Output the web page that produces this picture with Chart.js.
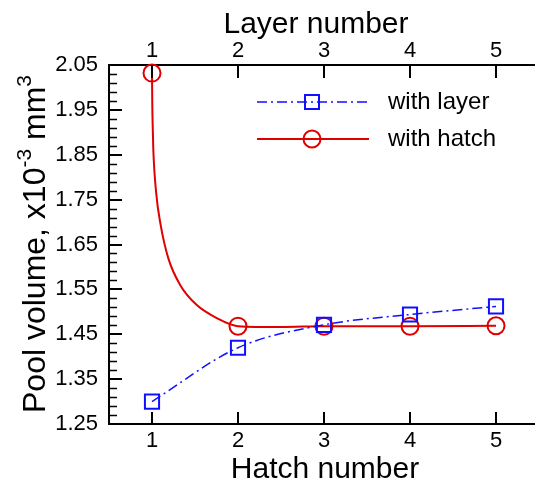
<!DOCTYPE html>
<html><head><meta charset="utf-8">
<script src="https://cdn.jsdelivr.net/npm/chart.js@4"></script>
<style>
html,body{margin:0;padding:0;background:#fff;overflow:hidden;width:535px;height:483px}
#wrap{width:551px;height:483px}
</style></head>
<body><div id="wrap"><canvas id="c" width="551" height="483"></canvas></div>
<script>
// ---- data ----
const categories = [1, 2, 3, 4, 5];
const layerVolume = [1.300, 1.420, 1.471, 1.494, 1.512];
const hatchVolume = [2.032, 1.468, 1.468, 1.468, 1.469];
// traced points of the drawn red spline
const hatchCurveX = [1.0, 1.003, 1.008, 1.015, 1.047, 1.101, 1.19, 1.327, 1.521, 1.754, 2.0, 2.5, 3.0, 4.0, 5.0];
const hatchCurveY = [2.032, 1.967, 1.915, 1.863, 1.768, 1.693, 1.619, 1.560, 1.515, 1.486, 1.468, 1.466, 1.468, 1.468, 1.469];
const yTicks = [1.25, 1.35, 1.45, 1.55, 1.65, 1.75, 1.85, 1.95, 2.05];
const xTickLabels = ['1', '2', '3', '4', '5'];
const seriesNames = ['with layer', 'with hatch'];

const FONT = '"Liberation Sans", Arial, sans-serif';
const BLUE = '#1010ff', RED = '#e00000';
const DASHDOT = [10, 4, 2, 4];

function drawTexts(chart) {
  const ctx = chart.ctx;
  ctx.save();
  ctx.fillStyle = '#000';
  ctx.font = '30px ' + FONT;
  ctx.textAlign = 'center';
  ctx.textBaseline = 'alphabetic';
  ctx.fillText('Layer number', 316, 33);
  ctx.fillText('Hatch number', 325, 478);
  ctx.restore();
  ctx.save();
  ctx.fillStyle = '#000';
  const big = '32px ' + FONT, small = '21px ' + FONT;
  const parts = [
    {t: 'Pool volume, x10', f: big, r: 0},
    {t: '-3', f: small, r: 14},
    {t: ' mm', f: big, r: 0},
    {t: '3', f: small, r: 14}
  ];
  let total = 0;
  parts.forEach(p => { ctx.font = p.f; p.w = ctx.measureText(p.t).width; total += p.w; });
  ctx.translate(45, 244);
  ctx.rotate(-Math.PI / 2);
  ctx.textAlign = 'left';
  ctx.textBaseline = 'alphabetic';
  let cx = -total / 2;
  parts.forEach(p => { ctx.font = p.f; ctx.fillText(p.t, cx, -p.r); cx += p.w; });
  ctx.restore();
}

function drawLegend(chart) {
  const ctx = chart.ctx;
  ctx.save();
  const rows = [102, 139];
  const lx0 = 257, lx1 = 369, mx = 312, tx = 388;
  ctx.lineWidth = 1.5;
  ctx.strokeStyle = BLUE;
  ctx.setLineDash(DASHDOT);
  ctx.beginPath(); ctx.moveTo(lx0, rows[0]); ctx.lineTo(lx1, rows[0]); ctx.stroke();
  ctx.setLineDash([]);
  ctx.lineWidth = 2;
  ctx.beginPath(); ctx.rect(mx - 7, rows[0] - 7, 14, 14); ctx.stroke();
  ctx.strokeStyle = RED;
  ctx.beginPath(); ctx.moveTo(lx0, rows[1]); ctx.lineTo(lx1, rows[1]); ctx.stroke();
  ctx.beginPath(); ctx.arc(mx, rows[1], 8.5, 0, Math.PI * 2); ctx.stroke();
  ctx.fillStyle = '#000';
  ctx.font = '24px ' + FONT;
  ctx.textAlign = 'left';
  ctx.textBaseline = 'middle';
  ctx.fillText(seriesNames[0], tx, rows[0]);
  ctx.fillText(seriesNames[1], tx, rows[1]);
  ctx.restore();
}

function drawInwardTicks(chart) {
  const ctx = chart.ctx, ca = chart.chartArea;
  const x = chart.scales.x, x2 = chart.scales.x2, y = chart.scales.y;
  ctx.save();
  ctx.setLineDash([]);
  ctx.globalAlpha = 1;
  ctx.globalCompositeOperation = 'source-over';
  ctx.strokeStyle = '#000000';
  ctx.lineWidth = 2;
  for (const v of categories) {
    const p = Math.round(x.getPixelForValue(v));
    ctx.beginPath(); ctx.moveTo(p, ca.bottom); ctx.lineTo(p, ca.bottom - 12); ctx.stroke();
    const p2 = Math.round(x2.getPixelForValue(v));
    ctx.beginPath(); ctx.moveTo(p2, ca.top); ctx.lineTo(p2, ca.top + 13); ctx.stroke();
  }
  for (const v of yTicks) {
    const p = Math.round(y.getPixelForValue(v));
    ctx.beginPath(); ctx.moveTo(ca.left, p); ctx.lineTo(ca.left + 13, p); ctx.stroke();
  }
  ctx.lineWidth = 1.5;
  for (let i = 0; i < yTicks.length - 1; i++) {
    for (let k = 1; k < 5; k++) {
      const v = yTicks[i] + k * (yTicks[i + 1] - yTicks[i]) / 5;
      const p = Math.round(y.getPixelForValue(v)) + 0.5;
      ctx.beginPath(); ctx.moveTo(ca.left, p); ctx.lineTo(ca.left + 8, p); ctx.stroke();
    }
  }
  ctx.restore();
}

const decor = {
  id: 'decor',
  afterDraw(chart) {
    try { drawTexts(chart); } catch (e) {}
    try { drawLegend(chart); } catch (e) {}
    try { drawInwardTicks(chart); } catch (e) {}
  }
};

const fixTicks = (vals) => (s) => { s.ticks = vals.map(v => ({value: v})); };
const noGrid = {display: false, drawTicks: false};

new Chart(document.getElementById('c'), {
  type: 'line',
  data: {
    datasets: [
      {label: seriesNames[0], data: categories.map((c, i) => ({x: c, y: layerVolume[i]})),
        borderColor: BLUE, borderWidth: 1.5, borderDash: DASHDOT, cubicInterpolationMode: 'monotone',
        pointStyle: 'rect', pointRadius: 10, pointBorderWidth: 2,
        pointBorderColor: BLUE, pointBackgroundColor: 'rgba(0,0,0,0)', clip: false},
      {label: seriesNames[1] + ' curve', data: hatchCurveX.map((c, i) => ({x: c, y: hatchCurveY[i]})),
        borderColor: RED, borderWidth: 2, cubicInterpolationMode: 'monotone', pointRadius: 0, clip: false},
      {label: seriesNames[1], data: categories.map((c, i) => ({x: c, y: hatchVolume[i]})), showLine: false,
        pointStyle: 'circle', pointRadius: 8.5, pointBorderWidth: 2,
        pointBorderColor: RED, pointBackgroundColor: 'rgba(0,0,0,0)', clip: false}
    ]
  },
  options: {
    responsive: false, animation: false, devicePixelRatio: 1,
    layout: {padding: {left: 0, right: 6, top: 0, bottom: 0}},
    plugins: {legend: {display: false}, tooltip: {enabled: false}},
    scales: {
      x: {type: 'linear', position: 'bottom', min: 0.5, max: 5.5, afterBuildTicks: fixTicks(categories),
        afterFit: (s) => { s.height = 59; },
        grid: noGrid, border: {display: true, color: '#000', width: 2},
        ticks: {color: '#000', font: {family: FONT, size: 22, lineHeight: 1}, padding: 6, maxRotation: 0, autoSkip: false,
          callback: (v) => xTickLabels[categories.indexOf(v)]}},
      x2: {type: 'linear', position: 'top', min: 0.5, max: 5.5, afterBuildTicks: fixTicks(categories),
        afterFit: (s) => { s.height = 65; },
        grid: noGrid, border: {display: true, color: '#000', width: 2},
        ticks: {color: '#000', font: {family: FONT, size: 22, lineHeight: 1}, padding: 3, maxRotation: 0, autoSkip: false,
          callback: (v) => xTickLabels[categories.indexOf(v)]}},
      y: {type: 'linear', position: 'left', min: 1.25, max: 2.05, afterBuildTicks: fixTicks(yTicks),
        afterFit: (s) => { s.width = 109; },
        grid: noGrid, border: {display: true, color: '#000', width: 2},
        ticks: {color: '#000', font: {family: FONT, size: 22, lineHeight: 1}, padding: 11, autoSkip: false,
          callback: (v) => v.toFixed(2)}}
    }
  },
  plugins: [decor]
});
</script>
</body></html>
